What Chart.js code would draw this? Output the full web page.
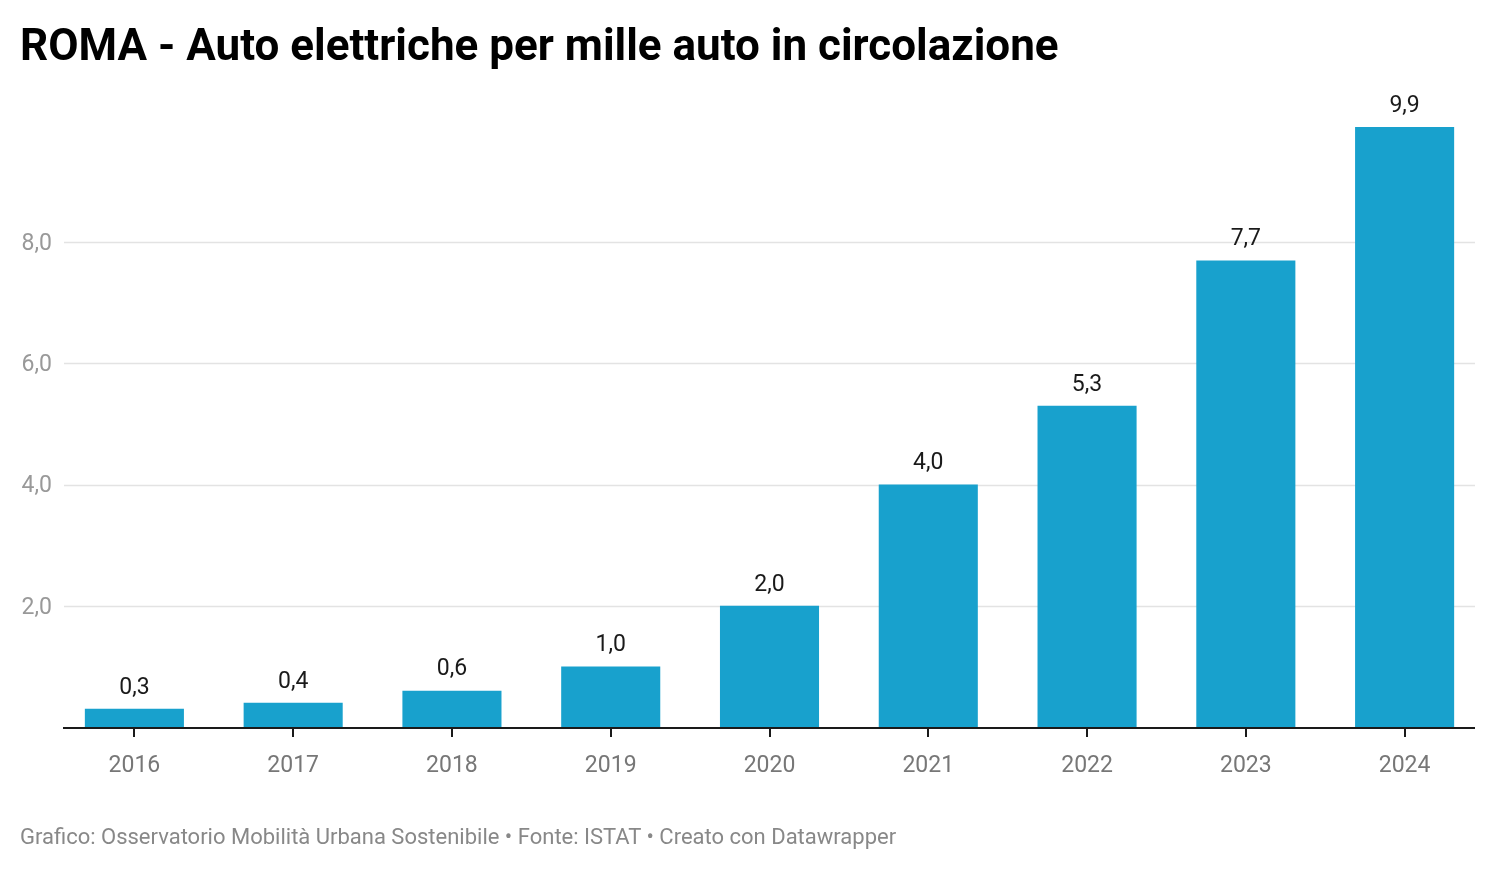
<!DOCTYPE html>
<html>
<head>
<meta charset="utf-8">
<script src="https://cdn.jsdelivr.net/npm/chart.js@4"></script>
<style>
  html, body { margin: 0; padding: 0; background: #fff; }
  #wrap { position: relative; width: 1496px; height: 870px; overflow: hidden; font-family: Roboto, sans-serif; }
  #title { position: absolute; left: 20px; top: 23px; font-size: 44px; font-weight: 700; line-height: 1; color: #000; white-space: nowrap; }
  #footer { position: absolute; left: 20px; top: 826px; font-size: 22px; line-height: 1; color: #888; white-space: nowrap; }
  canvas { position: absolute; left: 0; top: 0; }
</style>
</head>
<body>
<div id="wrap">
  <canvas id="chart" width="1496" height="870"></canvas>
  <div id="title">ROMA - Auto elettriche per mille auto in circolazione</div>
  <div id="footer">Grafico: Osservatorio Mobilità Urbana Sostenibile • Fonte: ISTAT • Creato con Datawrapper</div>
</div>
<script>
// data
const years = ['2016', '2017', '2018', '2019', '2020', '2021', '2022', '2023', '2024'];
const values = [0.3, 0.4, 0.6, 1.0, 2.0, 4.0, 5.3, 7.7, 9.9];
const yTicks = [2, 4, 6, 8];

const BAR_COLOR = '#18a1cd';
const fmt = v => v.toFixed(1).replace('.', ',');

// gridlines, baseline, tick marks and value labels
const decor = {
    id: 'decor',
    beforeDatasetsDraw(chart) {
        const { ctx, chartArea, scales } = chart;
        const left = chartArea.left + 9;
        const right = chartArea.right - 9;
        ctx.save();
        ctx.strokeStyle = '#e3e3e3';
        ctx.lineWidth = 1.5;
        yTicks.forEach(t => {
            const y = Math.round(scales.y.getPixelForValue(t)) + 0.5;
            ctx.beginPath();
            ctx.moveTo(left, y);
            ctx.lineTo(right, y);
            ctx.stroke();
        });
        ctx.restore();
    },
    afterDatasetsDraw(chart) {
        const { ctx, chartArea, scales } = chart;
        const left = chartArea.left + 8;
        const right = chartArea.right - 9;
        const y0 = scales.y.getPixelForValue(0);
        ctx.save();
        ctx.strokeStyle = '#1a1a1a';
        ctx.lineWidth = 2;
        ctx.beginPath();
        ctx.moveTo(left, y0 + 1);
        ctx.lineTo(right, y0 + 1);
        ctx.stroke();
        years.forEach((yr, i) => {
            const x = Math.round(scales.x.getPixelForValue(i));
            ctx.beginPath();
            ctx.moveTo(x, y0);
            ctx.lineTo(x, y0 + 10);
            ctx.stroke();
        });

        ctx.fillStyle = '#1a1a1a';
        ctx.font = '23px Roboto';
        ctx.textAlign = 'center';
        ctx.textBaseline = 'middle';
        chart.getDatasetMeta(0).data.forEach((bar, i) => {
            ctx.fillText(fmt(values[i]), bar.x, bar.y - 21);
        });
        ctx.restore();
    }
};

new Chart(document.getElementById('chart'), {
    type: 'bar',
    data: {
        labels: years,
        datasets: [{
            data: values,
            backgroundColor: BAR_COLOR,
            borderWidth: 0,
            barPercentage: 0.624,
            categoryPercentage: 1
        }]
    },
    options: {
        responsive: false,
        animation: false,
        devicePixelRatio: 1,
        layout: { padding: { top: 121, right: 12, bottom: 43, left: 0 } },
        scales: {
            x: {
                grid: { display: false, drawTicks: false },
                border: { display: false },
                ticks: { color: '#777', font: { family: 'Roboto', size: 23 }, padding: 25, maxRotation: 0 },
                afterFit(scale) { scale.height = 100; }
            },
            y: {
                min: 0,
                max: 10,
                grid: { display: false, drawTicks: false },
                border: { display: false },
                ticks: {
                    stepSize: 2,
                    color: '#999',
                    font: { family: 'Roboto', size: 23 },
                    padding: 3,
                    labelOffset: 2,
                    callback: v => yTicks.includes(v) ? fmt(v) : ''
                },
                afterFit(scale) { scale.width = 55; }
            }
        },
        plugins: {
            legend: { display: false },
            tooltip: { enabled: false }
        }
    },
    plugins: [decor]
});
</script>
</body>
</html>
